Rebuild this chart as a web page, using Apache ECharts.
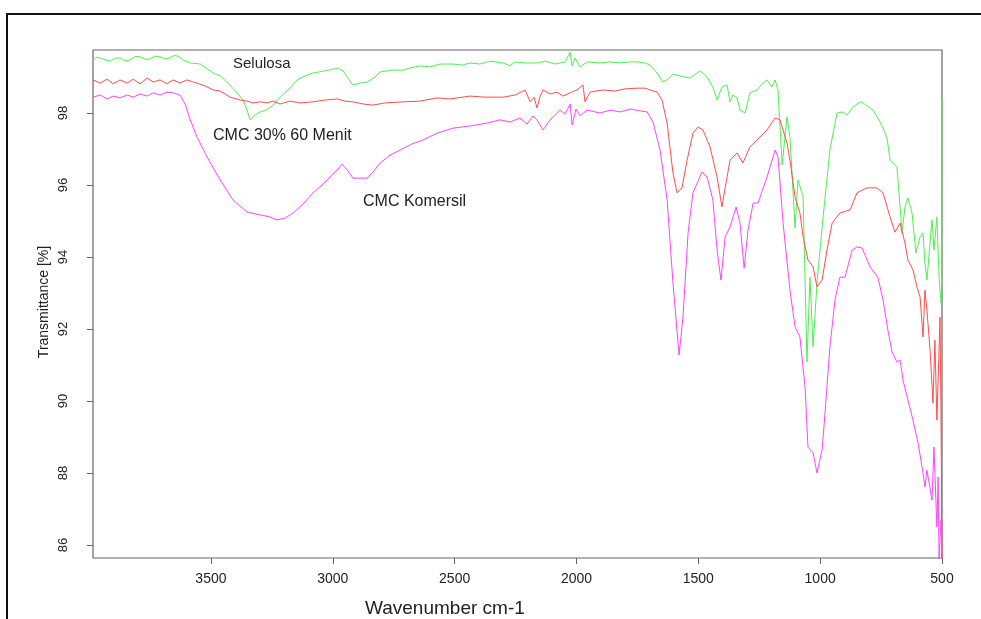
<!DOCTYPE html>
<html><head><meta charset="utf-8">
<script src="https://cdn.jsdelivr.net/npm/echarts@6/dist/echarts.min.js"></script>
<style>html,body{margin:0;padding:0;background:#fff}#c{width:981px;height:619px}</style>
</head><body><div id="c"></div>
<script>
// Wavenumber (cm-1), Transmittance (%) pairs
const selulosa = [
[3983,99.47],[3969,99.55],[3955,99.53],[3935,99.48],[3914,99.44],[3893,99.52],[3873,99.53],[3852,99.45],[3832,99.47],[3811,99.57],[3791,99.56],[3770,99.49],[3750,99.50],[3730,99.58],[3709,99.56],[3688,99.50],[3668,99.53],[3650,99.60],[3635,99.58],
[3614,99.47],[3585,99.39],[3544,99.36],[3491,99.11],[3462,99.03],[3434,98.86],[3393,98.56],[3368,98.36],[3352,98.08],[3339,97.81],
[3319,97.94],[3298,98.03],[3274,98.08],[3245,98.22],[3216,98.44],[3183,98.64],[3146,98.92],[3114,99.03],[3081,99.11],[3032,99.17],
[2978,99.25],[2958,99.17],[2941,99.00],[2917,98.78],[2888,98.83],[2859,98.86],[2826,99.00],[2806,99.14],[2757,99.19],[2712,99.19],
[2683,99.25],[2642,99.31],[2601,99.28],[2560,99.36],[2506,99.36],[2469,99.33],[2437,99.39],[2396,99.36],[2355,99.44],[2301,99.39],
[2273,99.31],[2252,99.42],[2211,99.39],[2162,99.39],[2129,99.44],[2088,99.36],[2047,99.42],[2026,99.69],[2018,99.31],[2006,99.53],
[1985,99.28],[1957,99.42],[1903,99.39],[1862,99.42],[1821,99.39],[1780,99.42],[1751,99.42],[1719,99.39],[1698,99.33],[1669,99.11],
[1645,98.86],[1624,98.94],[1604,99.08],[1575,99.03],[1534,98.97],[1493,99.17],[1464,99.00],[1440,98.72],[1423,98.36],[1403,98.72],
[1382,98.78],[1370,98.31],[1358,98.50],[1341,98.42],[1329,98.08],[1308,98.00],[1288,98.56],[1259,98.64],[1238,98.81],[1218,98.92],
[1198,98.72],[1185,98.92],[1173,98.64],[1156,96.56],[1136,97.89],[1124,97.33],[1103,94.81],[1091,96.14],[1083,96.14],[1070,95.67],
[1054,91.08],[1042,93.44],[1029,91.50],[1013,93.28],[988,95.11],[960,96.97],[931,98.00],[906,98.03],[890,97.94],[865,98.17],
[836,98.31],[824,98.28],[783,98.08],[754,97.75],[726,97.33],[713,96.69],[685,96.50],[672,95.39],[664,94.67],[652,95.39],
[640,95.64],[623,95.22],[607,94.11],[590,94.56],[578,94.67],[570,93.83],[562,93.36],[541,95.03],[533,94.19],[521,95.11],
[512,93.44],[504,92.72],[501,92.9],[500,98.4]
];
const cmc30 = [
[3983,98.92],[3955,98.83],[3926,98.94],[3901,98.81],[3873,98.92],[3844,98.83],[3819,98.94],[3791,98.81],[3762,98.97],[3737,98.86],
[3709,98.92],[3680,98.81],[3655,98.92],[3627,98.83],[3598,98.92],[3573,98.86],[3557,98.83],[3524,98.75],[3491,98.64],[3462,98.61],
[3421,98.44],[3380,98.36],[3352,98.33],[3327,98.28],[3298,98.31],[3270,98.28],[3245,98.33],[3216,98.25],[3175,98.33],[3134,98.28],
[3081,98.31],[3032,98.36],[2982,98.39],[2950,98.33],[2917,98.31],[2876,98.25],[2835,98.22],[2785,98.28],[2712,98.31],[2642,98.33],
[2572,98.42],[2519,98.39],[2437,98.47],[2375,98.44],[2301,98.44],[2252,98.50],[2211,98.64],[2190,98.31],[2174,98.44],[2162,98.14],
[2149,98.47],[2137,98.64],[2108,98.53],[2080,98.58],[2055,98.47],[2026,98.56],[1998,98.64],[1973,98.78],[1965,98.31],[1944,98.58],
[1891,98.64],[1842,98.61],[1801,98.67],[1751,98.69],[1719,98.69],[1698,98.64],[1669,98.58],[1649,98.36],[1628,97.72],[1604,96.33],
[1587,95.78],[1567,95.92],[1546,96.69],[1522,97.44],[1501,97.61],[1481,97.53],[1452,97.06],[1423,96.22],[1403,95.39],[1382,96.22],
[1370,96.69],[1341,96.89],[1317,96.61],[1288,97.06],[1247,97.33],[1218,97.53],[1185,97.86],[1165,97.81],[1136,97.17],[1124,96.69],
[1103,95.67],[1083,95.22],[1070,94.56],[1050,93.92],[1029,93.72],[1013,93.17],[992,93.36],[972,94.19],[951,94.94],[919,95.22],
[877,95.31],[849,95.78],[808,95.92],[767,95.92],[742,95.78],[713,95.11],[693,94.69],[672,94.94],[652,94.39],[640,93.92],
[619,93.64],[603,93.17],[590,92.89],[578,91.78],[570,93.08],[562,92.53],[549,91.42],[537,89.94],[529,91.69],[521,89.47],
[508,92.33],[504,89.47],[500,85.6]
];
const komersil = [
[3983,98.44],[3955,98.50],[3926,98.39],[3901,98.47],[3873,98.42],[3844,98.50],[3819,98.44],[3791,98.53],[3762,98.47],[3737,98.56],
[3709,98.50],[3680,98.58],[3655,98.56],[3627,98.50],[3606,98.25],[3585,97.81],[3557,97.33],[3516,96.78],[3462,96.14],[3409,95.58],
[3352,95.25],[3298,95.17],[3257,95.11],[3229,95.03],[3196,95.08],[3163,95.22],[3122,95.47],[3081,95.78],[3044,96.00],[3011,96.22],
[2982,96.42],[2962,96.58],[2941,96.42],[2917,96.19],[2888,96.19],[2859,96.19],[2835,96.36],[2806,96.61],[2765,96.83],[2724,96.97],
[2675,97.14],[2630,97.25],[2572,97.44],[2506,97.58],[2437,97.64],[2367,97.72],[2314,97.81],[2273,97.75],[2232,97.86],[2203,97.69],
[2178,97.92],[2162,97.81],[2137,97.53],[2108,97.81],[2067,98.08],[2047,97.97],[2026,98.25],[2018,97.67],[2002,98.11],[1985,97.92],
[1957,98.08],[1903,98.00],[1862,98.08],[1821,98.03],[1780,98.11],[1739,98.06],[1710,98.03],[1686,97.75],[1657,96.97],[1628,95.58],
[1604,93.28],[1579,91.28],[1563,92.33],[1542,94.67],[1522,95.78],[1485,96.36],[1464,96.22],[1440,95.58],[1423,94.19],[1407,93.36],
[1390,94.56],[1370,94.83],[1345,95.39],[1329,94.94],[1312,93.69],[1296,94.75],[1275,95.50],[1255,95.50],[1218,96.22],[1185,96.97],
[1173,96.78],[1152,94.94],[1124,93.08],[1103,92.06],[1083,91.78],[1062,90.39],[1050,88.72],[1029,88.56],[1013,88.00],[992,88.64],
[980,89.67],[960,91.50],[939,92.81],[919,93.44],[898,93.44],[869,94.19],[849,94.28],[828,94.25],[795,93.72],[763,93.44],
[742,92.81],[722,91.97],[705,91.36],[685,91.08],[672,91.14],[660,90.58],[640,90.03],[619,89.47],[598,88.83],[578,88.00],
[570,87.61],[562,88.08],[541,87.25],[533,88.72],[521,86.50],[516,87.89],[512,85.6],[504,86.7],[500,85.6]
];
const xTicks = [3500,3000,2500,2000,1500,1000,500];
const yTicks = [86,88,90,92,94,96,98];
const seriesNames = ['Selulosa','CMC 30% 60 Menit','CMC Komersil'];

const chart = echarts.init(document.getElementById('c'), null, {renderer:'canvas'});
const font = 'Liberation Sans, Arial, sans-serif';
const mk = (name, data, color) => ({
  name, type:'line', data, showSymbol:false, symbol:'none', animation:false,
  lineStyle:{width:1, color}, itemStyle:{color}, z:3
});
chart.setOption({
  backgroundColor:'#fff',
  animation:false,
  grid:{left:93, right:39, top:50, bottom:61, show:true, borderColor:'#666', borderWidth:1.2},
  xAxis:{
    type:'value', inverse:true, min:500, max:3984,
    axisLine:{show:false},
    splitLine:{show:false},
    axisTick:{show:true, customValues:xTicks, length:6, lineStyle:{color:'#666'}},
    axisLabel:{customValues:xTicks, formatter:v=>String(v), color:'#222', fontSize:14, fontFamily:font, margin:14}
  },
  yAxis:{
    type:'value', min:85.64, max:99.75,
    axisLine:{show:false},
    splitLine:{show:false},
    axisTick:{show:true, customValues:yTicks, length:6, lineStyle:{color:'#666'}},
    axisLabel:{customValues:yTicks, formatter:v=>String(v), rotate:90, color:'#222', fontSize:13, fontFamily:font, margin:23}
  },
  series:[
    mk(seriesNames[0], selulosa, '#4ef04e'),
    mk(seriesNames[1], cmc30, '#ff4d4d'),
    mk(seriesNames[2], komersil, '#ff44ff')
  ],
  graphic:[
    {type:'rect', shape:{x:7,y:14,width:1000,height:700}, style:{fill:'none', stroke:'#111', lineWidth:2}, z:0},
    {type:'text', left:233, top:56, style:{text:seriesNames[0], font:'15px '+font, fill:'#222'}},
    {type:'text', left:213, top:128, style:{text:seriesNames[1], font:'16px '+font, fill:'#222'}},
    {type:'text', left:363, top:194, style:{text:seriesNames[2], font:'16px '+font, fill:'#222'}},
    {type:'text', left:365, top:599, style:{text:'Wavenumber cm-1', font:'19px '+font, fill:'#222'}},
    {type:'text', x:44, y:302, rotation:Math.PI/2, style:{text:'Transmittance [%]', font:'14px '+font, fill:'#222', align:'center', verticalAlign:'middle'}}
  ]
});
</script></body></html>
